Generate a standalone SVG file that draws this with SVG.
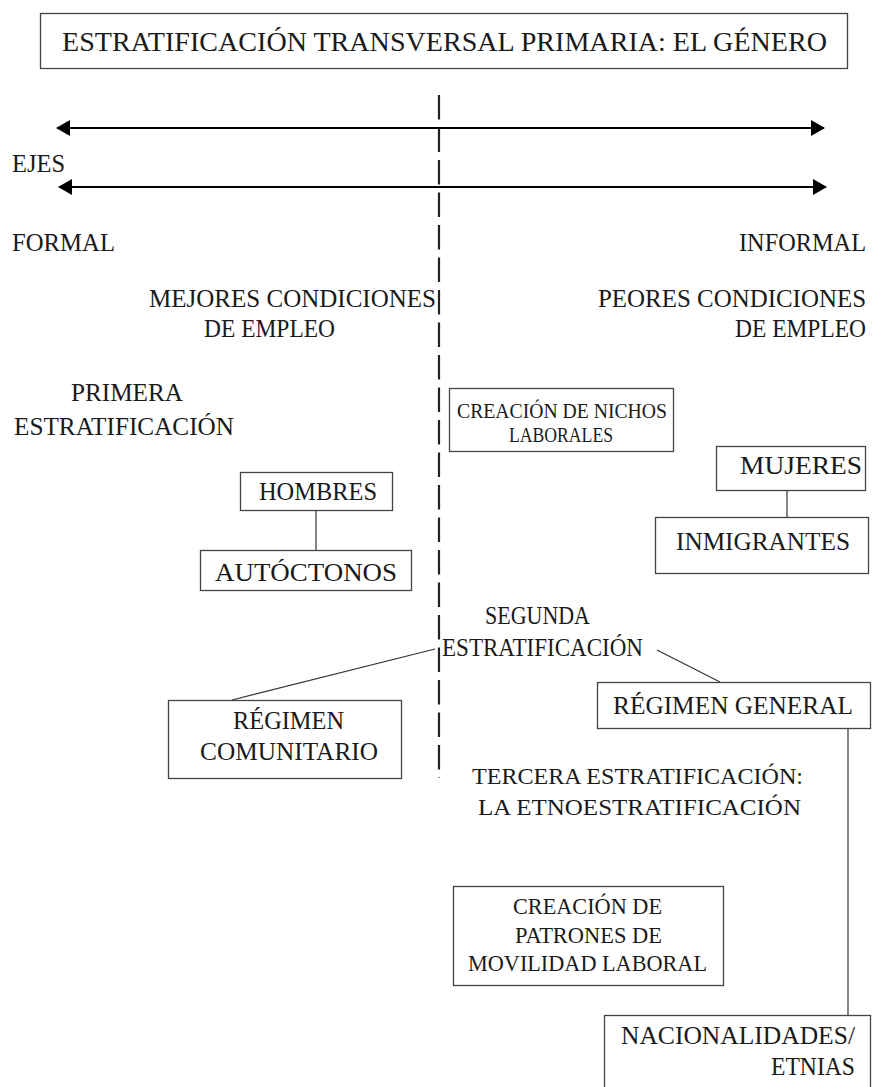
<svg xmlns="http://www.w3.org/2000/svg" width="874" height="1087" viewBox="0 0 874 1087">
<style>
text{font-family:"Liberation Serif","Times New Roman",serif;fill:#1a1a1a;font-size:25px}
.box{fill:#fff;stroke:#444;stroke-width:1.3}
.ln{stroke:#333;stroke-width:1.2;fill:none}
.ax{stroke:#000;stroke-width:2;fill:none}
.dash{stroke:#222;stroke-width:2.2;stroke-dasharray:24.5 8}
.sm{font-size:20px}
.md{font-size:23px}
.tt{font-size:27px}
.r{text-anchor:end}
</style>
<defs>
<marker id="ah" viewBox="0 0 14 16" refX="13" refY="8" markerWidth="14" markerHeight="16" markerUnits="userSpaceOnUse" orient="auto-start-reverse">
<path d="M0,0 L14,8 L0,16 Z" fill="#000"/>
</marker>
</defs>
<rect width="874" height="1087" fill="#fff"/>

<g id="title">
<rect class="box" x="40.5" y="13.5" width="807" height="55"/>
<text class="tt" x="62" y="51" textLength="765" lengthAdjust="spacingAndGlyphs">ESTRATIFICACIÓN TRANSVERSAL PRIMARIA: EL GÉNERO</text>
</g>

<g id="connectors">
<line class="dash" x1="439" y1="95" x2="439" y2="778"/>
<line class="ax" x1="57" y1="128" x2="824" y2="128" marker-start="url(#ah)" marker-end="url(#ah)"/>
<line class="ax" x1="59" y1="187" x2="826" y2="187" marker-start="url(#ah)" marker-end="url(#ah)"/>
<line class="ln" x1="316" y1="510" x2="316" y2="550"/>
<line class="ln" x1="787" y1="490" x2="787" y2="517"/>
<line class="ln" x1="435" y1="649" x2="232" y2="700"/>
<line class="ln" x1="657" y1="650" x2="720" y2="682"/>
<line class="ln" x1="848" y1="728" x2="848" y2="1015"/>
</g>

<g id="labels">
<text x="12" y="172" textLength="53" lengthAdjust="spacingAndGlyphs">EJES</text>
<text x="12" y="251" textLength="103" lengthAdjust="spacingAndGlyphs">FORMAL</text>
<text class="r" x="866" y="251" textLength="127" lengthAdjust="spacingAndGlyphs">INFORMAL</text>
<text x="149" y="307" textLength="287" lengthAdjust="spacingAndGlyphs">MEJORES CONDICIONES</text>
<text x="204" y="337" textLength="131" lengthAdjust="spacingAndGlyphs">DE EMPLEO</text>
<text class="r" x="866" y="307" textLength="268" lengthAdjust="spacingAndGlyphs">PEORES CONDICIONES</text>
<text class="r" x="866" y="337" textLength="131" lengthAdjust="spacingAndGlyphs">DE EMPLEO</text>
<text x="71" y="401" textLength="112" lengthAdjust="spacingAndGlyphs">PRIMERA</text>
<text x="14" y="435" textLength="220" lengthAdjust="spacingAndGlyphs">ESTRATIFICACIÓN</text>
<text x="485" y="624" textLength="105" lengthAdjust="spacingAndGlyphs">SEGUNDA</text>
<text x="442" y="656" textLength="201" lengthAdjust="spacingAndGlyphs">ESTRATIFICACIÓN</text>
<text class="md" x="472" y="784" textLength="331" lengthAdjust="spacingAndGlyphs">TERCERA ESTRATIFICACIÓN:</text>
<text class="md" x="478" y="815" textLength="323" lengthAdjust="spacingAndGlyphs">LA ETNOESTRATIFICACIÓN</text>
</g>

<g id="nichos">
<rect class="box" x="449.5" y="388.5" width="224" height="63"/>
<text class="sm" x="457" y="418" textLength="210" lengthAdjust="spacingAndGlyphs">CREACIÓN DE NICHOS</text>
<text class="sm" x="509" y="442" textLength="104" lengthAdjust="spacingAndGlyphs">LABORALES</text>
</g>

<g id="hombres">
<rect class="box" x="240.5" y="472.5" width="152" height="38"/>
<text x="259" y="500" textLength="118" lengthAdjust="spacingAndGlyphs">HOMBRES</text>
</g>

<g id="autoctonos">
<rect class="box" x="200.5" y="550.5" width="211" height="40"/>
<text x="215" y="581" textLength="182" lengthAdjust="spacingAndGlyphs">AUTÓCTONOS</text>
</g>

<g id="mujeres">
<rect class="box" x="716.5" y="446.5" width="149" height="44"/>
<text x="740" y="474" textLength="122" lengthAdjust="spacingAndGlyphs">MUJERES</text>
</g>

<g id="inmigrantes">
<rect class="box" x="655.5" y="517.5" width="213" height="56"/>
<text x="676" y="550" textLength="174" lengthAdjust="spacingAndGlyphs">INMIGRANTES</text>
</g>

<g id="comunitario">
<rect class="box" x="168.5" y="700.5" width="233" height="78"/>
<text x="233" y="729" textLength="111" lengthAdjust="spacingAndGlyphs">RÉGIMEN</text>
<text x="200" y="760" textLength="178" lengthAdjust="spacingAndGlyphs">COMUNITARIO</text>
</g>

<g id="general">
<rect class="box" x="597.5" y="682.5" width="273" height="46"/>
<text x="613" y="714" textLength="240" lengthAdjust="spacingAndGlyphs">RÉGIMEN GENERAL</text>
</g>

<g id="patrones">
<rect class="box" x="453.5" y="886.5" width="270" height="99"/>
<text class="md" x="513" y="914" textLength="149" lengthAdjust="spacingAndGlyphs">CREACIÓN DE</text>
<text class="md" x="515" y="943" textLength="147" lengthAdjust="spacingAndGlyphs">PATRONES DE</text>
<text class="md" x="468" y="971" textLength="239" lengthAdjust="spacingAndGlyphs">MOVILIDAD LABORAL</text>
</g>

<g id="nacionalidades">
<rect class="box" x="604.5" y="1015.5" width="266" height="75"/>
<text x="621" y="1044" textLength="234" lengthAdjust="spacingAndGlyphs">NACIONALIDADES/</text>
<text x="771" y="1075" textLength="84" lengthAdjust="spacingAndGlyphs">ETNIAS</text>
</g>
</svg>
